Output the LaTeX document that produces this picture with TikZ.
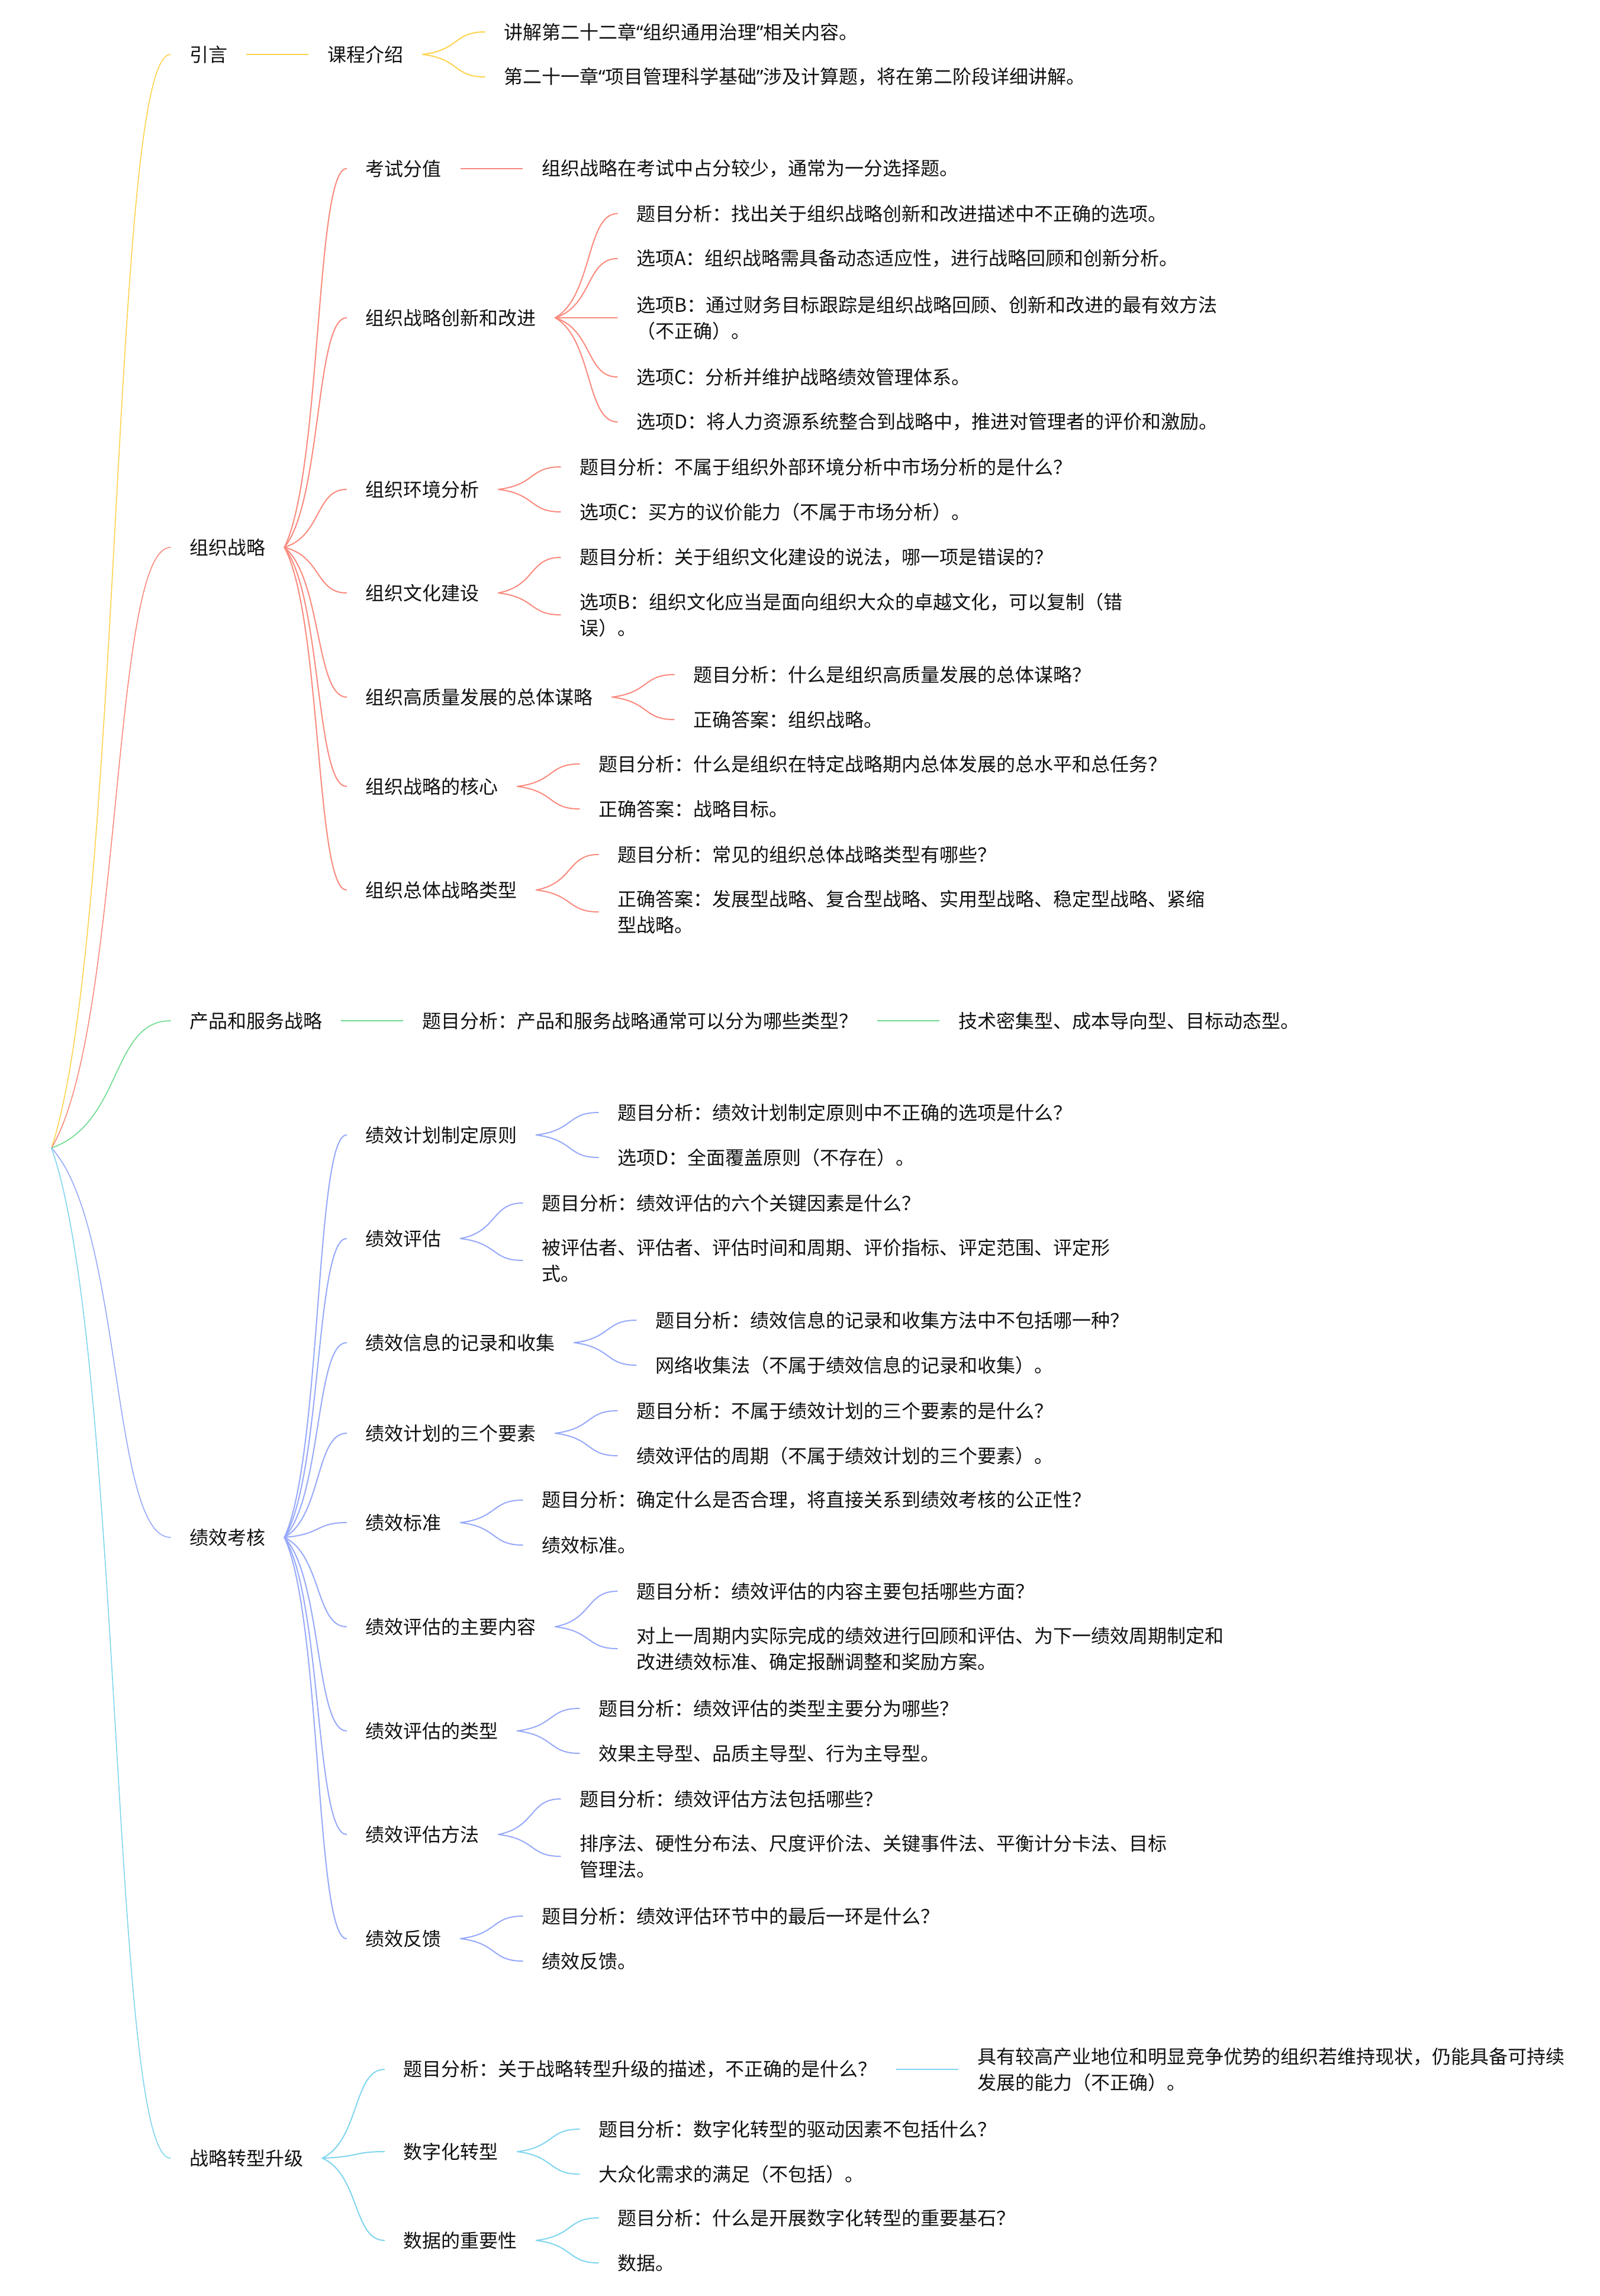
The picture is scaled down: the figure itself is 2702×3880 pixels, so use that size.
\documentclass[tikz,border=0pt]{standalone}
\usepackage{fontspec}
\setmainfont{Noto Sans CJK SC}
\newfontfamily\quotefont{Noto Sans}
\newcommand\zlq{{\quotefont “}}
\newcommand\zrq{{\quotefont ”}}
\usetikzlibrary{positioning,calc}
\definecolor{cyel}{HTML}{FDD34E}
\definecolor{csal}{HTML}{FB8A7E}
\definecolor{cgrn}{HTML}{6CDB8E}
\definecolor{cper}{HTML}{97A9FA}
\definecolor{csky}{HTML}{80D6EF}
\definecolor{ctxt}{HTML}{111111}

\begin{document}
\begin{tikzpicture}[x=1pt,y=-1pt,node distance=105pt,
  topic/.style={anchor=west,inner xsep=32pt,inner ysep=2pt,align=left,text=ctxt,font=\fontsize{32}{44}\selectfont},
  fork/.style={line width=2pt,line cap=round,to path={let \p1=(\tikztostart), \p2=(\tikztotarget) in
      .. controls ({\x1+0.6*(\x2-\x1)},{\y1+0.2*(\y2-\y1)}) and ({\x1+0.5*(\x2-\x1)},\y2) .. (\tikztotarget)}},
  trunk/.style={fork,line width=1.6pt},
  link/.style={line width=2pt}]

  \fill[white] (0,0) rectangle (2702,3880);
  \useasboundingbox (0,0) rectangle (2702,3880);

  \coordinate (root) at (87,1940);

  % 引言
  \node[topic] (yy) at (288,92) {引言};
  \node[topic] (kcjs) [right=of yy] {课程介绍};
  \node[topic] (kcjs1) [right=of kcjs, yshift=38pt] {讲解第二十二章\zlq 组织通用治理\zrq 相关内容。};
  \node[topic] (kcjs2) [right=of kcjs, yshift=-38pt] {第二十一章\zlq 项目管理科学基础\zrq 涉及计算题，将在第二阶段详细讲解。};

  \draw[trunk, cyel] (root) to (yy.west);
  \draw[link, cyel] (yy) -- (kcjs);
  \draw[fork, cyel] (kcjs.east) to (kcjs1.west);
  \draw[fork, cyel] (kcjs.east) to (kcjs2.west);

  % 组织战略
  \node[topic] (zzzl) at (288,925) {组织战略};
  \node[topic] (ksfz) [right=of zzzl, yshift=640pt] {考试分值};
  \node[topic] (ksfz1) [right=of ksfz] {组织战略在考试中占分较少，通常为一分选择题。};
  \node[topic] (cxgj) [right=of zzzl, yshift=388pt] {组织战略创新和改进};
  \node[topic] (cxgj1) [right=of cxgj, yshift=176pt] {题目分析：找出关于组织战略创新和改进描述中不正确的选项。};
  \node[topic] (cxgj2) [right=of cxgj, yshift=100pt] {选项A：组织战略需具备动态适应性，进行战略回顾和创新分析。};
  \node[topic] (cxgj3) [right=of cxgj] {选项B：通过财务目标跟踪是组织战略回顾、创新和改进的最有效方法\\（不正确）。};
  \node[topic] (cxgj4) [right=of cxgj, yshift=-100pt] {选项C：分析并维护战略绩效管理体系。};
  \node[topic] (cxgj5) [right=of cxgj, yshift=-176pt] {选项D：将人力资源系统整合到战略中，推进对管理者的评价和激励。};
  \node[topic] (hjfx) [right=of zzzl, yshift=98pt] {组织环境分析};
  \node[topic] (hjfx1) [right=of hjfx, yshift=38pt] {题目分析：不属于组织外部环境分析中市场分析的是什么？};
  \node[topic] (hjfx2) [right=of hjfx, yshift=-38pt] {选项C：买方的议价能力（不属于市场分析）。};
  \node[topic] (whjs) [right=of zzzl, yshift=-77pt] {组织文化建设};
  \node[topic] (whjs1) [right=of whjs, yshift=60pt] {题目分析：关于组织文化建设的说法，哪一项是错误的？};
  \node[topic] (whjs2) [right=of whjs, yshift=-37pt] {选项B：组织文化应当是面向组织大众的卓越文化，可以复制（错\\误）。};
  \node[topic] (gzl) [right=of zzzl, yshift=-253pt] {组织高质量发展的总体谋略};
  \node[topic] (gzl1) [right=of gzl, yshift=38pt] {题目分析：什么是组织高质量发展的总体谋略？};
  \node[topic] (gzl2) [right=of gzl, yshift=-38pt] {正确答案：组织战略。};
  \node[topic] (hx) [right=of zzzl, yshift=-404pt] {组织战略的核心};
  \node[topic] (hx1) [right=of hx, yshift=38pt] {题目分析：什么是组织在特定战略期内总体发展的总水平和总任务？};
  \node[topic] (hx2) [right=of hx, yshift=-38pt] {正确答案：战略目标。};
  \node[topic] (ztlx) [right=of zzzl, yshift=-579pt] {组织总体战略类型};
  \node[topic] (ztlx1) [right=of ztlx, yshift=60pt] {题目分析：常见的组织总体战略类型有哪些？};
  \node[topic] (ztlx2) [right=of ztlx, yshift=-37pt] {正确答案：发展型战略、复合型战略、实用型战略、稳定型战略、紧缩\\型战略。};

  \draw[trunk, csal] (root) to (zzzl.west);
  \draw[fork, csal] (zzzl.east) to (ksfz.west);
  \draw[link, csal] (ksfz) -- (ksfz1);
  \draw[fork, csal] (zzzl.east) to (cxgj.west);
  \draw[fork, csal] (cxgj.east) to (cxgj1.west);
  \draw[fork, csal] (cxgj.east) to (cxgj2.west);
  \draw[fork, csal] (cxgj.east) to (cxgj3.west);
  \draw[fork, csal] (cxgj.east) to (cxgj4.west);
  \draw[fork, csal] (cxgj.east) to (cxgj5.west);
  \draw[fork, csal] (zzzl.east) to (hjfx.west);
  \draw[fork, csal] (hjfx.east) to (hjfx1.west);
  \draw[fork, csal] (hjfx.east) to (hjfx2.west);
  \draw[fork, csal] (zzzl.east) to (whjs.west);
  \draw[fork, csal] (whjs.east) to (whjs1.west);
  \draw[fork, csal] (whjs.east) to (whjs2.west);
  \draw[fork, csal] (zzzl.east) to (gzl.west);
  \draw[fork, csal] (gzl.east) to (gzl1.west);
  \draw[fork, csal] (gzl.east) to (gzl2.west);
  \draw[fork, csal] (zzzl.east) to (hx.west);
  \draw[fork, csal] (hx.east) to (hx1.west);
  \draw[fork, csal] (hx.east) to (hx2.west);
  \draw[fork, csal] (zzzl.east) to (ztlx.west);
  \draw[fork, csal] (ztlx.east) to (ztlx1.west);
  \draw[fork, csal] (ztlx.east) to (ztlx2.west);

  % 产品和服务战略
  \node[topic] (cpfw) at (288,1725) {产品和服务战略};
  \node[topic] (cpfw1) [right=of cpfw] {题目分析：产品和服务战略通常可以分为哪些类型？};
  \node[topic] (cpfw2) [right=of cpfw1] {技术密集型、成本导向型、目标动态型。};

  \draw[trunk, cgrn] (root) to (cpfw.west);
  \draw[link, cgrn] (cpfw) -- (cpfw1);
  \draw[link, cgrn] (cpfw1) -- (cpfw2);

  % 绩效考核
  \node[topic] (jxkh) at (288,2598) {绩效考核};
  \node[topic] (zdyz) [right=of jxkh, yshift=680pt] {绩效计划制定原则};
  \node[topic] (zdyz1) [right=of zdyz, yshift=38pt] {题目分析：绩效计划制定原则中不正确的选项是什么？};
  \node[topic] (zdyz2) [right=of zdyz, yshift=-38pt] {选项D：全面覆盖原则（不存在）。};
  \node[topic] (pg) [right=of jxkh, yshift=505pt] {绩效评估};
  \node[topic] (pg1) [right=of pg, yshift=60pt] {题目分析：绩效评估的六个关键因素是什么？};
  \node[topic] (pg2) [right=of pg, yshift=-37pt] {被评估者、评估者、评估时间和周期、评价指标、评定范围、评定形\\式。};
  \node[topic] (xxjl) [right=of jxkh, yshift=329pt] {绩效信息的记录和收集};
  \node[topic] (xxjl1) [right=of xxjl, yshift=38pt] {题目分析：绩效信息的记录和收集方法中不包括哪一种？};
  \node[topic] (xxjl2) [right=of xxjl, yshift=-38pt] {网络收集法（不属于绩效信息的记录和收集）。};
  \node[topic] (sgys) [right=of jxkh, yshift=176pt] {绩效计划的三个要素};
  \node[topic] (sgys1) [right=of sgys, yshift=38pt] {题目分析：不属于绩效计划的三个要素的是什么？};
  \node[topic] (sgys2) [right=of sgys, yshift=-38pt] {绩效评估的周期（不属于绩效计划的三个要素）。};
  \node[topic] (bz) [right=of jxkh, yshift=25pt] {绩效标准};
  \node[topic] (bz1) [right=of bz, yshift=38pt] {题目分析：确定什么是否合理，将直接关系到绩效考核的公正性？};
  \node[topic] (bz2) [right=of bz, yshift=-38pt] {绩效标准。};
  \node[topic] (zynr) [right=of jxkh, yshift=-151pt] {绩效评估的主要内容};
  \node[topic] (zynr1) [right=of zynr, yshift=60pt] {题目分析：绩效评估的内容主要包括哪些方面？};
  \node[topic] (zynr2) [right=of zynr, yshift=-37pt] {对上一周期内实际完成的绩效进行回顾和评估、为下一绩效周期制定和\\改进绩效标准、确定报酬调整和奖励方案。};
  \node[topic] (pglx) [right=of jxkh, yshift=-327pt] {绩效评估的类型};
  \node[topic] (pglx1) [right=of pglx, yshift=38pt] {题目分析：绩效评估的类型主要分为哪些？};
  \node[topic] (pglx2) [right=of pglx, yshift=-38pt] {效果主导型、品质主导型、行为主导型。};
  \node[topic] (pgff) [right=of jxkh, yshift=-502pt] {绩效评估方法};
  \node[topic] (pgff1) [right=of pgff, yshift=60pt] {题目分析：绩效评估方法包括哪些？};
  \node[topic] (pgff2) [right=of pgff, yshift=-37pt] {排序法、硬性分布法、尺度评价法、关键事件法、平衡计分卡法、目标\\管理法。};
  \node[topic] (fk) [right=of jxkh, yshift=-678pt] {绩效反馈};
  \node[topic] (fk1) [right=of fk, yshift=38pt] {题目分析：绩效评估环节中的最后一环是什么？};
  \node[topic] (fk2) [right=of fk, yshift=-38pt] {绩效反馈。};

  \draw[trunk, cper] (root) to (jxkh.west);
  \draw[fork, cper] (jxkh.east) to (zdyz.west);
  \draw[fork, cper] (zdyz.east) to (zdyz1.west);
  \draw[fork, cper] (zdyz.east) to (zdyz2.west);
  \draw[fork, cper] (jxkh.east) to (pg.west);
  \draw[fork, cper] (pg.east) to (pg1.west);
  \draw[fork, cper] (pg.east) to (pg2.west);
  \draw[fork, cper] (jxkh.east) to (xxjl.west);
  \draw[fork, cper] (xxjl.east) to (xxjl1.west);
  \draw[fork, cper] (xxjl.east) to (xxjl2.west);
  \draw[fork, cper] (jxkh.east) to (sgys.west);
  \draw[fork, cper] (sgys.east) to (sgys1.west);
  \draw[fork, cper] (sgys.east) to (sgys2.west);
  \draw[fork, cper] (jxkh.east) to (bz.west);
  \draw[fork, cper] (bz.east) to (bz1.west);
  \draw[fork, cper] (bz.east) to (bz2.west);
  \draw[fork, cper] (jxkh.east) to (zynr.west);
  \draw[fork, cper] (zynr.east) to (zynr1.west);
  \draw[fork, cper] (zynr.east) to (zynr2.west);
  \draw[fork, cper] (jxkh.east) to (pglx.west);
  \draw[fork, cper] (pglx.east) to (pglx1.west);
  \draw[fork, cper] (pglx.east) to (pglx2.west);
  \draw[fork, cper] (jxkh.east) to (pgff.west);
  \draw[fork, cper] (pgff.east) to (pgff1.west);
  \draw[fork, cper] (pgff.east) to (pgff2.west);
  \draw[fork, cper] (jxkh.east) to (fk.west);
  \draw[fork, cper] (fk.east) to (fk1.west);
  \draw[fork, cper] (fk.east) to (fk2.west);

  % 战略转型升级
  \node[topic] (zxsj) at (288,3647) {战略转型升级};
  \node[topic] (zxms) [right=of zxsj, yshift=150pt] {题目分析：关于战略转型升级的描述，不正确的是什么？};
  \node[topic] (zxms1) [right=of zxms] {具有较高产业地位和明显竞争优势的组织若维持现状，仍能具备可持续\\发展的能力（不正确）。};
  \node[topic] (szh) [right=of zxsj, yshift=11pt] {数字化转型};
  \node[topic] (szh1) [right=of szh, yshift=38pt] {题目分析：数字化转型的驱动因素不包括什么？};
  \node[topic] (szh2) [right=of szh, yshift=-38pt] {大众化需求的满足（不包括）。};
  \node[topic] (sjzy) [right=of zxsj, yshift=-139pt] {数据的重要性};
  \node[topic] (sjzy1) [right=of sjzy, yshift=38pt] {题目分析：什么是开展数字化转型的重要基石？};
  \node[topic] (sjzy2) [right=of sjzy, yshift=-38pt] {数据。};

  \draw[trunk, csky] (root) to (zxsj.west);
  \draw[fork, csky] (zxsj.east) to (zxms.west);
  \draw[link, csky] (zxms) -- (zxms1);
  \draw[fork, csky] (zxsj.east) to (szh.west);
  \draw[fork, csky] (szh.east) to (szh1.west);
  \draw[fork, csky] (szh.east) to (szh2.west);
  \draw[fork, csky] (zxsj.east) to (sjzy.west);
  \draw[fork, csky] (sjzy.east) to (sjzy1.west);
  \draw[fork, csky] (sjzy.east) to (sjzy2.west);
\end{tikzpicture}
\end{document}
